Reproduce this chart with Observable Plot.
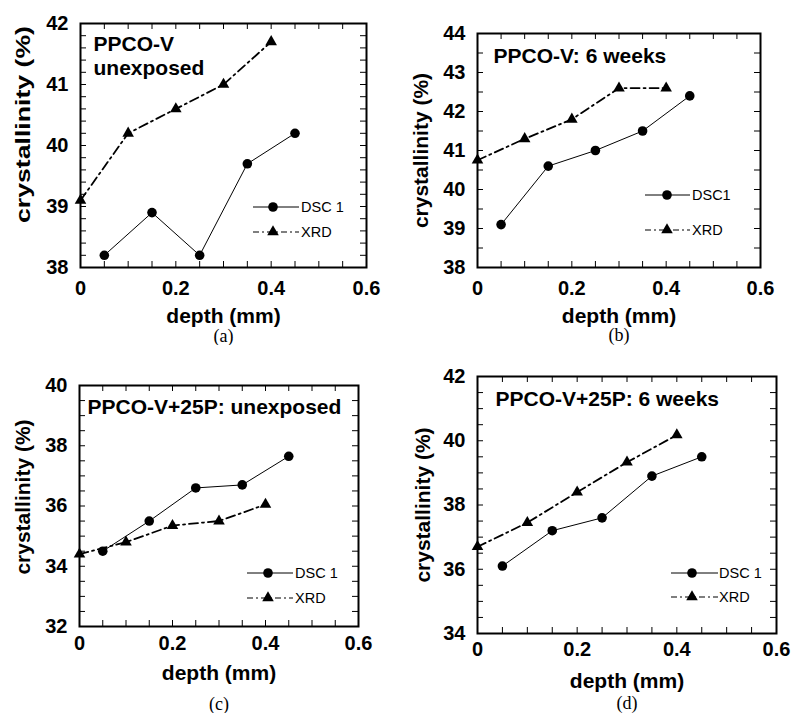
<!DOCTYPE html>
<html><head><meta charset="utf-8">
<script src="https://cdn.jsdelivr.net/npm/d3@7"></script>
<script src="https://cdn.jsdelivr.net/npm/@observablehq/plot@0.6"></script>
<style>
body{margin:0;background:#fff;}
#wrap{position:relative;width:792px;height:713px;background:#fff;font-family:"Liberation Sans",Arial,sans-serif;overflow:hidden;}
.panel{position:absolute;}
#legend{position:absolute;left:0;top:0;pointer-events:none;}
</style></head><body><div id="wrap"></div>
<script>
// ---- data ----
const depthDSC = [0.05, 0.15, 0.25, 0.35, 0.45];
const depthXRD = [0, 0.1, 0.2, 0.3, 0.4];
const dscA = [38.2, 38.9, 38.2, 39.7, 40.2];
const xrdA = [39.1, 40.2, 40.6, 41.0, 41.7];
const dscB = [39.1, 40.6, 41.0, 41.5, 42.4];
const xrdB = [40.75, 41.3, 41.8, 42.6, 42.6];
const dscC = [34.5, 35.5, 36.6, 36.7, 37.65];
const xrdC = [34.4, 34.8, 35.35, 35.5, 36.05];
const dscD = [36.1, 37.2, 37.6, 38.9, 39.5];
const xrdD = [36.7, 37.45, 38.4, 39.33, 40.18];
const xTickLabels = [0, 0.2, 0.4, 0.6];
const yTicksA = [38, 39, 40, 41, 42];
const yTicksB = [38, 39, 40, 41, 42, 43, 44];
const yTicksC = [32, 34, 36, 38, 40];
const yTicksD = [34, 36, 38, 40, 42];
const titles = ["PPCO-V\nunexposed", "PPCO-V: 6 weeks", "PPCO-V+25P: unexposed", "PPCO-V+25P: 6 weeks"];
const letters = ["(a)", "(b)", "(c)", "(d)"];
const dscNames = ["DSC 1", "DSC1", "DSC 1", "DSC 1"];
const xrdName = "XRD";
const xLabel = "depth (mm)";
const yLabel = "crystallinity (%)";

const SANS = "Liberation Sans, Arial, Helvetica, sans-serif";
const SERIF = "Liberation Serif, Times New Roman, serif";
const wrap = document.getElementById("wrap");

function makePanel(c) {
  const pw = c.width - c.ml - c.mr, ph = c.height - c.mt - c.mb;
  const dsc = depthDSC.map((x, i) => ({x, y: c.dsc[i]}));
  const xrd = depthXRD.map((x, i) => ({x, y: c.xrd[i]}));
  const xMinor = d3.range(0, 0.6001, 0.05).map(v => +v.toFixed(2));
  const yMinor = d3.range(c.yDomain[0], c.yDomain[1] + 1e-6, c.yStep).map(v => +v.toFixed(2));
  const tick = {stroke: "black", strokeWidth: 1};
  const svg = Plot.plot({
    width: c.width, height: c.height,
    marginLeft: c.ml, marginRight: c.mr, marginTop: c.mt, marginBottom: c.mb,
    x: {domain: [0, 0.6]},
    y: {domain: c.yDomain},
    style: {fontFamily: SANS, background: "white", color: "black", overflow: "visible"},
    marks: [
      Plot.tickX(xMinor, {x: d => d, insetTop: ph - 6, ...tick}),
      Plot.tickX(xMinor, {x: d => d, insetBottom: ph - 6, ...tick}),
      Plot.tickY(yMinor, {y: d => d, insetRight: pw - 6, ...tick}),
      Plot.tickY(yMinor, {y: d => d, insetLeft: pw - 6, ...tick}),
      Plot.axisX(xTickLabels, {tickSize: 0, tickPadding: c.xPad, fontSize: 20, fontWeight: "bold", tickFormat: d => String(d), label: null}),
      Plot.axisY(c.yTicks, {tickSize: 0, tickPadding: 12, fontSize: 20, fontWeight: "bold", tickFormat: d => String(d), label: null}),
      Plot.line(dsc, {x: "x", y: "y", stroke: "black", strokeWidth: 1}),
      Plot.line(xrd, {x: "x", y: "y", stroke: "black", strokeWidth: 1.8, strokeDasharray: "9,4,2,4"}),
      Plot.dot(dsc, {x: "x", y: "y", r: 4.8, fill: "black", symbol: "circle"}),
      Plot.dot(xrd, {x: "x", y: "y", r: 4.3, fill: "black", symbol: "triangle"}),
      Plot.text([c.title], {frameAnchor: "top-left", dx: c.tdx, dy: c.tdy, textAnchor: "start", lineAnchor: "top", fontSize: 21, fontWeight: "bold", lineHeight: 1.15, fill: "black"}),
      Plot.text([xLabel], {frameAnchor: "bottom", dy: c.xlDy, textAnchor: "middle", lineAnchor: "middle", fontSize: 21, fontWeight: "bold", fill: "black"}),
      Plot.text([c.letter], {frameAnchor: "bottom", dy: c.letDy, textAnchor: "middle", lineAnchor: "middle", fontFamily: SERIF, fontSize: 18, fill: "black"}),
      Plot.text([yLabel], {frameAnchor: "left", dx: c.ylDx, dy: c.ylDy, rotate: -90, textAnchor: "middle", lineAnchor: "middle", fontSize: 21, fontWeight: "bold", fill: "black"}),
      Plot.frame({stroke: "black", strokeWidth: 2})
    ]
  });
  if (c.ylLen) {
    d3.select(svg).selectAll("text").filter(function() { return this.textContent === yLabel; })
      .attr("textLength", c.ylLen).attr("lengthAdjust", "spacingAndGlyphs");
  }
  const div = document.createElement("div");
  div.className = "panel";
  div.style.left = c.left + "px";
  div.style.top = c.top + "px";
  div.appendChild(svg);
  wrap.appendChild(div);
}

makePanel({left: 0, top: 0, width: 396, height: 345, ml: 80, mr: 30, mt: 23, mb: 78,
  yDomain: [38, 42], yStep: 0.2, yTicks: yTicksA, dsc: dscA, xrd: xrdA, title: titles[0], letter: letters[0],
  tdx: 13, tdy: 10, xPad: 13, xlDy: 49, letDy: 69, ylDx: -57, ylDy: -21, ylLen: 197});
makePanel({left: 396, top: 0, width: 396, height: 345, ml: 81, mr: 32, mt: 33, mb: 78,
  yDomain: [38, 44], yStep: 0.5, yTicks: yTicksB, dsc: dscB, xrd: xrdB, title: titles[1], letter: letters[1],
  tdx: 16, tdy: 12, xPad: 13, xlDy: 49, letDy: 68, ylDx: -56, ylDy: 0});
makePanel({left: 0, top: 345, width: 396, height: 368, ml: 79, mr: 38, mt: 40, mb: 87,
  yDomain: [32, 40], yStep: 0.5, yTicks: yTicksC, dsc: dscC, xrd: xrdC, title: titles[2], letter: letters[2],
  tdx: 8, tdy: 11, xPad: 9, xlDy: 47, letDy: 78, ylDx: -56, ylDy: -9});
makePanel({left: 396, top: 345, width: 396, height: 368, ml: 81, mr: 16, mt: 31, mb: 80,
  yDomain: [34, 42], yStep: 0.5, yTicks: yTicksD, dsc: dscD, xrd: xrdD, title: titles[3], letter: letters[3],
  tdx: 18, tdy: 12, xPad: 8, xlDy: 48, letDy: 70, ylDx: -54, ylDy: 0});

// ---- legends (overlay) ----
const legends = [
  {x1: 253, x2: 299, xm: 273, yd: 207, yx: 232, tx: 301, name: dscNames[0]},
  {x1: 645, x2: 690, xm: 667, yd: 195, yx: 230, tx: 692, name: dscNames[1]},
  {x1: 247, x2: 293, xm: 268, yd: 573, yx: 598, tx: 295, name: dscNames[2]},
  {x1: 671, x2: 718, xm: 692, yd: 573, yx: 597, tx: 719, name: dscNames[3]}
];
const lg = d3.select(wrap).append("svg").attr("id", "legend").attr("width", 792).attr("height", 713);
const tri = d3.symbol(d3.symbolTriangle, Math.PI * 4.3 * 4.3)();
for (const l of legends) {
  lg.append("line").attr("x1", l.x1).attr("x2", l.x2).attr("y1", l.yd).attr("y2", l.yd).attr("stroke", "black").attr("stroke-width", 1);
  lg.append("circle").attr("cx", l.xm).attr("cy", l.yd).attr("r", 4.8).attr("fill", "black");
  lg.append("text").attr("x", l.tx).attr("y", l.yd).attr("dy", "0.35em").attr("font-family", SANS).attr("font-size", 14.5).text(l.name);
  lg.append("line").attr("x1", l.x1).attr("x2", l.x2).attr("y1", l.yx).attr("y2", l.yx).attr("stroke", "black").attr("stroke-width", 1.2).attr("stroke-dasharray", "6,3,2,3");
  lg.append("path").attr("d", tri).attr("transform", `translate(${l.xm},${l.yx})`).attr("fill", "black");
  lg.append("text").attr("x", l.tx).attr("y", l.yx).attr("dy", "0.35em").attr("font-family", SANS).attr("font-size", 14.5).text(xrdName);
}
</script></body></html>
